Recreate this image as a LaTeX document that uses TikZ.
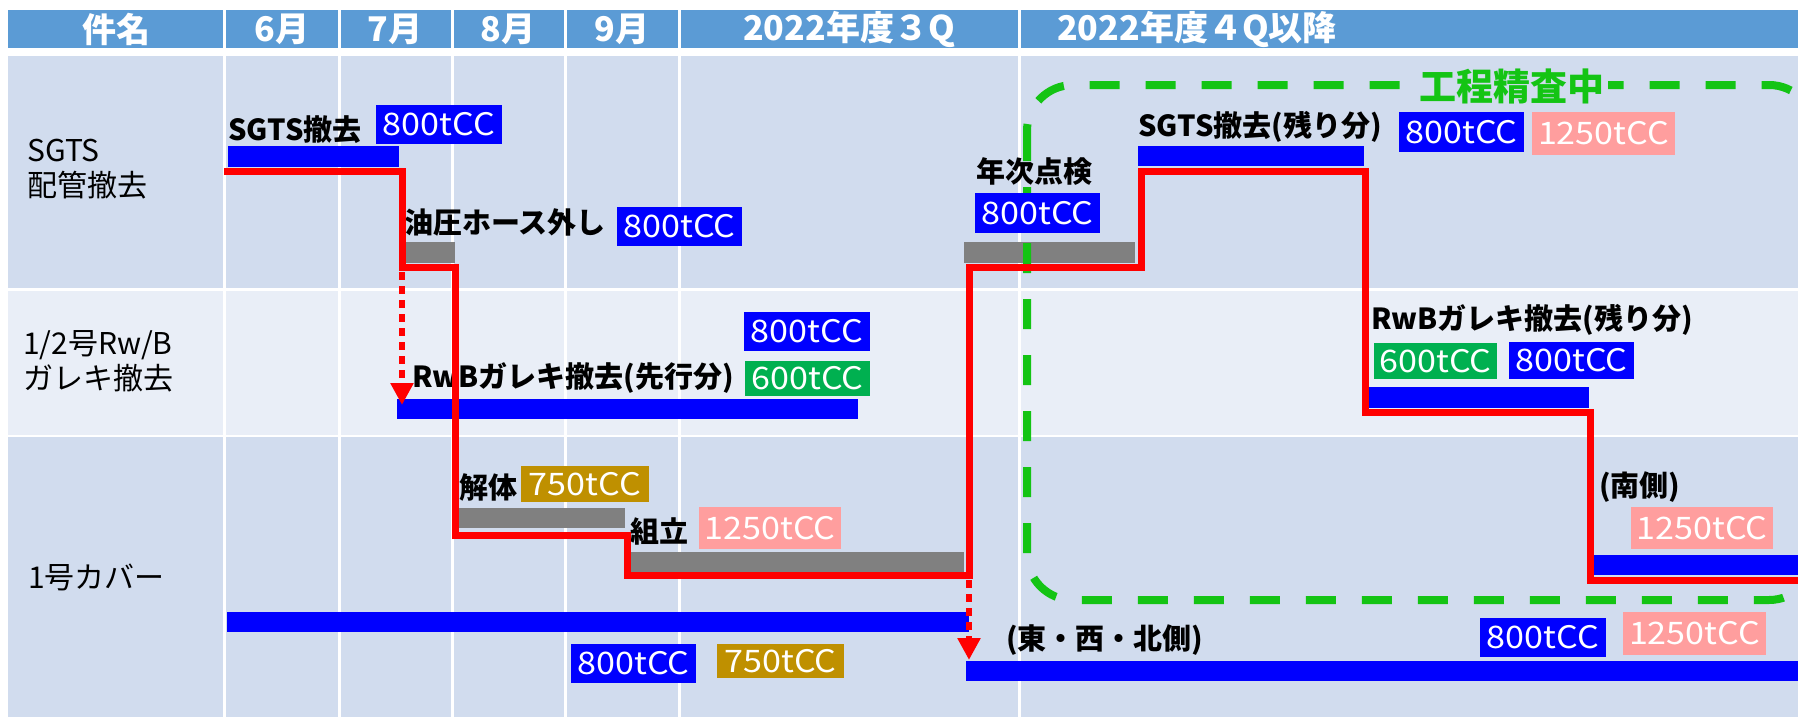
\documentclass[tikz,border=0pt]{standalone}
\usepackage{fontspec}
\setmainfont{Noto Sans CJK JP}
\newfontfamily\labfam[FakeStretch=1.1]{Noto Sans CJK JP}
\usetikzlibrary{arrows.meta,fit}
\definecolor{hdr}{HTML}{5B9BD5}
\definecolor{rowA}{HTML}{D1DCEE}
\definecolor{rowB}{HTML}{E9EEF7}
\definecolor{bblue}{HTML}{0000FF}
\definecolor{lgreen}{HTML}{00B050}
\definecolor{gold}{HTML}{BF9000}
\definecolor{pink}{HTML}{FF9E9E}
\definecolor{dgreen}{HTML}{14C414}
\definecolor{bargray}{HTML}{808080}
\definecolor{rred}{HTML}{FF0000}
\tikzset{
  lab/.style={fill=#1, text=white, inner sep=0pt, font=\labfam\fontsize{31}{32}\selectfont},
  barbox/.style={fill=#1, draw=none, inner sep=0pt},
  task/.style={anchor=west, inner sep=0pt, font=\bfseries\fontsize{29}{30}\selectfont},
  rowlab/.style={anchor=west, inner sep=0pt, align=left, font=\fontsize{30}{35}\selectfont},
  hdrtext/.style={inner sep=0pt, text=white, font=\bfseries\fontsize{34}{35}\selectfont},
  sepline/.style={draw=white, line width=3pt},
  redline/.style={draw=rred, line width=7pt, line join=miter},
  reddash/.style={draw=rred, line width=6pt, dash pattern=on 8pt off 6pt, -{Triangle[width=22pt,length=22pt]}},
  gdash/.style={draw=dgreen, line width=8pt, dash pattern=on 30pt off 26pt, rounded corners=46pt},
}
\newcommand\mklab[7]{%
  \pgfmathsetmacro\lw{#5-#3}\pgfmathsetmacro\lh{#6-#4}%
  \node[lab=#2, minimum width=\lw pt, minimum height=\lh pt] (#1) at ({(#3+#5)/2},{(#4+#6)/2}) {#7};}
\begin{document}
\begin{tikzpicture}[x=1pt,y=-1pt]
\useasboundingbox (0,0) rectangle (1798,717);
\clip (0,0) rectangle (1798,717);
\fill[white] (0,0) rectangle (1798,717);
% header
\fill[hdr] (8,10) rectangle (1798,48);
% rows
\fill[rowA] (8,56) rectangle (1798,288);
\fill[rowB] (8,291) rectangle (1798,435);
\fill[rowA] (8,437) rectangle (1798,717);
% column separators
\foreach \xx in {224.5,339,452,565,679,1019} \draw[sepline] (\xx,8) -- (\xx,717);
% header texts
\node[hdrtext] (h0) at (116,29) {件名};
\node[hdrtext] (h1) at (282,29) {6月};
\node[hdrtext] (h2) at (395,29) {7月};
\node[hdrtext] (h3) at (508,29) {8月};
\node[hdrtext] (h4) at (622,29) {9月};
\node[hdrtext] (h5) at (849,29) {2022年度３Q};
\node[hdrtext, anchor=west] (h6) at (1057,29) {2022年度４Q以降};
% row labels
\node[rowlab] (r1) at (27,169) {SGTS\\配管撤去};
\node[rowlab] (r2) at (23,361) {1/2号Rw/B\\ガレキ撤去};
\node[rowlab] (r3) at (28,577) {1号カバー};
% bars
\node[barbox=bblue, fit={(228,146)(399,167)}] (b1) {};
\node[barbox=bargray, fit={(404,242)(455,263)}] (b2) {};
\node[barbox=bblue, fit={(397,399)(858,419)}] (b3) {};
\node[barbox=bargray, fit={(458,508)(625,528)}] (b4) {};
\node[barbox=bargray, fit={(630,552)(964,572)}] (b5) {};
\node[barbox=bblue, fit={(227,612)(969,632)}] (b6) {};
\node[barbox=bargray, fit={(964,242)(1135,263)}] (b7) {};
\node[barbox=bblue, fit={(1138,146)(1364,166)}] (b8) {};
\node[barbox=bblue, fit={(1368,387)(1589,408)}] (b9) {};
\node[barbox=bblue, fit={(1593,555)(1800,575)}] (b10) {};
\node[barbox=bblue, fit={(966,661)(1800,681)}] (b11) {};
% green dashed region
\draw[gdash] (1027,85) rectangle (1815,600);
\node[fill=rowA, inner xsep=3pt, inner ysep=0pt, text=dgreen, font=\bfseries\fontsize{37}{38}\selectfont] (gl) at (1512,86) {工程精査中};
% task texts
\node[task] (t1) at (228,130) {SGTS撤去};
\node[task] (t2) at (404,222) {油圧ホース外し};
\node[task] (t3) at (412,378) {RwBガレキ撤去(先行分)};
\node[task] (t4) at (459,487) {解体};
\node[task] (t5) at (630,531) {組立};
\node[task] (t6) at (976,172) {年次点検};
\node[task] (t7) at (1138,127) {SGTS撤去(残り分)};
\node[task] (t8) at (1371,320) {RwBガレキ撤去(残り分)};
\node[task] (t9) at (1599,487) {(南側)};
\node[task] (t10) at (1006,640) {(東・西・北側)};
% capacity labels
\mklab{l1}{bblue}{376}{105}{502}{144}{800tCC}
\mklab{l2}{bblue}{617}{207}{742}{246}{800tCC}
\mklab{l3}{bblue}{975}{193}{1100}{233}{800tCC}
\mklab{l4}{bblue}{1399}{112}{1524}{152}{800tCC}
\mklab{l5}{pink}{1532}{112}{1675}{155}{1250tCC}
\mklab{l6}{bblue}{744}{312}{870}{351}{800tCC}
\mklab{l7}{lgreen}{745}{361}{870}{396}{600tCC}
\mklab{l8}{gold}{521}{466}{649}{502}{750tCC}
\mklab{l9}{pink}{699}{507}{841}{549}{1250tCC}
\mklab{l10}{bblue}{571}{644}{696}{683}{800tCC}
\mklab{l11}{gold}{717}{644}{844}{678}{750tCC}
\mklab{l12}{lgreen}{1374}{343}{1497}{379}{600tCC}
\mklab{l13}{bblue}{1509}{342}{1634}{379}{800tCC}
\mklab{l14}{pink}{1631}{507}{1773}{549}{1250tCC}
\mklab{l15}{bblue}{1480}{618}{1606}{657}{800tCC}
\mklab{l16}{pink}{1623}{612}{1766}{655}{1250tCC}
% red schedule line
\draw[redline] (224,171) -| (402,267) -| (455,535) -| (627,575) -| (969,267) -| (1141,171) -| (1365,412) -| (1590,580) -- (1810,580);
% dotted arrows
\coordinate (a1) at (402,272);
\coordinate (a1e) at (402,405);
\coordinate (a2) at (969,580);
\coordinate (a2e) at (969,660);
\draw[reddash] (a1) -- (a1e);
\draw[reddash] (a2) -- (a2e);
\end{tikzpicture}
\end{document}
